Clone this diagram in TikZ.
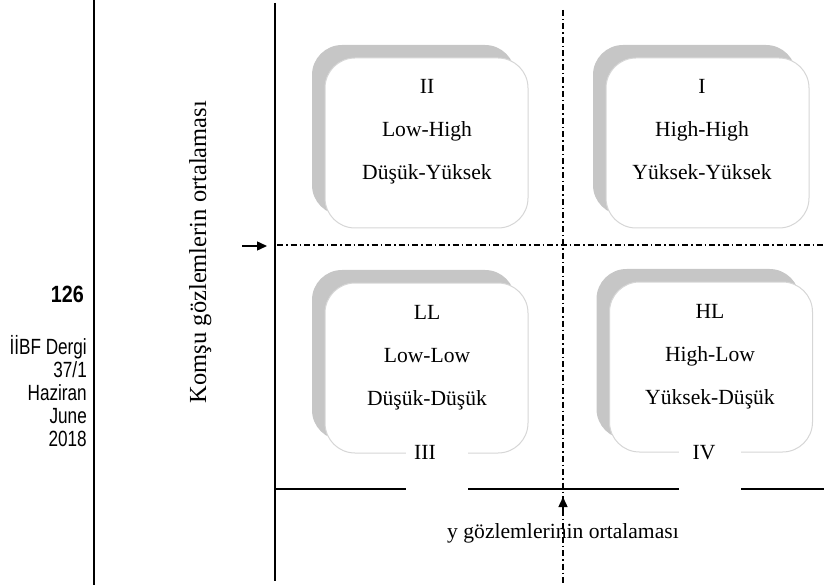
\documentclass[tikz,border=0pt]{standalone}
\usepackage{fontspec}
\setmainfont{Liberation Serif}
\newfontfamily\sidefont{Liberation Sans}[FakeStretch=0.78]
\newfontfamily\numfont{Liberation Sans}[FakeStretch=0.84]
\usetikzlibrary{arrows.meta,shadows}
\definecolor{shadowgray}{HTML}{C6C6C6}
\definecolor{edgegray}{HTML}{D6D6D6}
\tikzset{
  quadbox/.style={draw=edgegray, line width=1pt, fill=white, rounded corners=30pt,
    minimum width=203pt, minimum height=170pt, inner sep=0pt,
    general shadow={fill=shadowgray, draw=none, shadow xshift=-13pt, shadow yshift=13pt}},
  boxtxt/.style={font=\fontsize{21.6}{24}\selectfont, inner sep=0pt, anchor=base},
  gaplbl/.style={fill=white, inner sep=0pt, minimum width=62pt, minimum height=52pt},
  sidetxt/.style={font=\sidefont\fontsize{22}{24}\selectfont, anchor=east, inner sep=0pt},
  axisline/.style={line width=2pt},
  dashdot/.style={line width=1.1pt, dash pattern=on 6pt off 3pt on 1.5pt off 3pt},
  ptr/.style={line width=1.4pt, -{Triangle[length=10pt,width=9pt]}}
}
\begin{document}
\begin{tikzpicture}[x=1pt,y=-1pt]
\useasboundingbox (0,0) rectangle (824,585);
% margin line and side texts
\coordinate (mt) at (94,0);
\coordinate (mb) at (94,585);
\draw[line width=1.5pt] (mt) -- (mb);
\node[font=\numfont\bfseries\fontsize{23.5}{25}\selectfont, anchor=east, inner sep=0pt] (pg) at (84,294) {126};
\node[sidetxt] (s1) at (87,347) {İİBF Dergi};
\node[sidetxt] (s2) at (87,370) {37/1};
\node[sidetxt] (s3) at (87,393) {Haziran};
\node[sidetxt] (s4) at (87,416) {June};
\node[sidetxt] (s5) at (87,439) {2018};
% axes
\coordinate (yt) at (275,3);
\coordinate (yb) at (275,581);
\coordinate (xl) at (275,489);
\coordinate (xr) at (824,489);
\draw[axisline] (yt) -- (yb);
\draw[axisline] (xl) -- (xr);
% dash-dot mean lines
\coordinate (vt) at (563,10);
\coordinate (vb) at (563,585);
\coordinate (hl) at (277,245);
\coordinate (hr) at (824,245);
\draw[dashdot] (vt) -- (vb);
\draw[dashdot] (hl) -- (hr);
% boxes
\node[quadbox] (b2) at (426.5,143) {};
\node[quadbox] (b1) at (707.5,143) {};
\node[quadbox] (b3) at (426.5,368) {};
\node[quadbox] (b4) at (711,367) {};
% box texts (baselines)
\node[boxtxt] (t2a) at (427,94) {II};
\node[boxtxt] (t2b) at (427,137) {Low-High};
\node[boxtxt] (t2c) at (427,180) {Düşük-Yüksek};
\node[boxtxt] (t1a) at (702,94) {I};
\node[boxtxt] (t1b) at (702,137) {High-High};
\node[boxtxt] (t1c) at (702,180) {Yüksek-Yüksek};
\node[boxtxt] (t3a) at (427,319) {LL};
\node[boxtxt] (t3b) at (427,362) {Low-Low};
\node[boxtxt] (t3c) at (427,405) {Düşük-Düşük};
\node[boxtxt] (t4a) at (710,318) {HL};
\node[boxtxt] (t4b) at (710,361) {High-Low};
\node[boxtxt] (t4c) at (710,404) {Yüksek-Düşük};
% bottom labels with white patches
\node[gaplbl] (g3) at (436.5,466) {};
\node[gaplbl] (g4) at (710,466) {};
\node[boxtxt] (t3d) at (425,459) {III};
\node[boxtxt] (t4d) at (704,459) {IV};
% axis titles
\node[boxtxt, anchor=base west] (xt) at (447,538) {y gözlemlerinin ortalaması};
\node[font=\fontsize{24.5}{26}\selectfont, rotate=90, inner sep=0pt, anchor=base] (yl) at (206,252) {Komşu gözlemlerin ortalaması};
% pointers
\coordinate (la) at (242,246);
\coordinate (lb) at (267,246);
\draw[ptr] (la) -- (lb);
\coordinate (ua) at (563,513);
\coordinate (ub) at (563,497);
\draw[ptr] (ua) -- (ub);
\end{tikzpicture}
\end{document}
